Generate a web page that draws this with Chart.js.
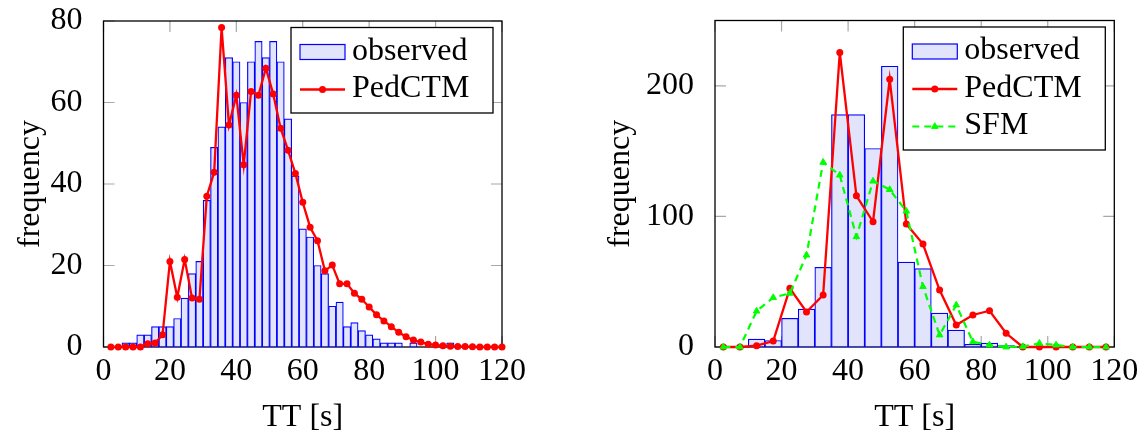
<!DOCTYPE html>
<html>
<head>
<meta charset="utf-8">
<script src="https://cdn.jsdelivr.net/npm/chart.js@4.4.1/dist/chart.umd.min.js"></script>
<style>
  html, body { margin: 0; padding: 0; background: #fff; }
  #wrap { position: relative; width: 1146px; height: 434px; }
  .panel { position: absolute; top: 0; width: 573px; height: 434px; }
</style>
</head>
<body>
<div id="wrap">
  <div class="panel" style="left:0"><canvas id="leftChart" width="573" height="434"></canvas></div>
  <div class="panel" style="left:573px"><canvas id="rightChart" width="573" height="434"></canvas></div>
</div>
<script>
// left panel: 54 bins over 0..120 s
const leftBins = [2.22, 4.44, 6.67, 8.89, 11.11, 13.33, 15.56, 17.78, 20, 22.22,
  24.44, 26.67, 28.89, 31.11, 33.33, 35.56, 37.78, 40, 42.22, 44.44,
  46.67, 48.89, 51.11, 53.33, 55.56, 57.78, 60, 62.22, 64.44, 66.67,
  68.89, 71.11, 73.33, 75.56, 77.78, 80, 82.22, 84.44, 86.67, 88.89,
  91.11, 93.33, 95.56, 97.78, 100, 102.22, 104.44, 106.67, 108.89, 111.11,
  113.33, 115.56, 117.78, 120];
const leftObserved = [0, 0, 1, 1, 3, 3, 5, 5, 5, 7,
  12, 18, 21, 36, 49, 54, 71, 70, 60, 70,
  75, 71, 75, 70, 56, 42, 29, 27, 20, 18,
  10, 11, 5, 6, 4, 3, 2, 1, 1, 1,
  0, 1, 0, 0, 0, 0, 1, 0, 0, 0,
  0, 0, 0, 0];
const leftPedCTM = [0, 0, 0, 0, 0, 0.8, 1, 3, 21, 12.2,
  21.5, 12, 11.7, 37, 42.9, 78.4, 54.5, 61.8, 44.7, 62.7,
  61.8, 68.4, 62.1, 53.7, 48.3, 42.6, 35.5, 29.4, 26.1, 18.7,
  20.1, 15.5, 15.5, 13.2, 11.7, 9.8, 7.9, 6.4, 5, 3.6,
  2.5, 1.7, 1.2, 0.7, 0.5, 0.3, 0.2, 0.15, 0.1, 0.05,
  0, 0, 0, 0];
const leftXTicks = [0, 20, 40, 60, 80, 100, 120];
const leftYTicks = [0, 20, 40, 60, 80];

// right panel: 5 s bins
const rightBins = [2.5, 7.5, 12.5, 17.5, 22.5, 27.5, 32.5, 37.5, 42.5, 47.5, 52.5, 57.5,
  62.5, 67.5, 72.5, 77.5, 82.5, 87.5, 92.5, 97.5, 102.5, 107.5, 112.5, 117.5];
const rightObserved = [0, 0, 6, 5, 22, 29, 61, 178, 178, 152, 215, 65,
  60, 26, 13, 2, 3, 1, 0, 0, 0, 0, 0, 0];
const rightPedCTM = [0, 0, 1, 4.6, 44.9, 26.8, 39.8, 225.5, 115.8, 95.9, 205, 94.1,
  78.8, 43.6, 16.8, 24.5, 27.8, 10.5, 0, 0, 0, 0, 0, 0];
const rightSFM = [0, 0, 27.5, 37.8, 41.1, 70.4, 141.4, 131.6, 84.4, 127, 120.5, 104,
  46.2, 9.2, 32.1, 4, 1.5, 0, 0.3, 2.8, 1.5, 0, 0, 0];
const rightXTicks = [0, 20, 40, 60, 80, 100, 120];
const rightYTicks = [0, 100, 200];

const FONT = 'Liberation Serif';
Chart.defaults.font.family = FONT;
Chart.defaults.font.size = 32;
Chart.defaults.color = '#000';

const BAR_FILL = 'rgb(226, 228, 252)';
const BAR_EDGE = '#0000ff';

function pairs(xs, ys) {
  return xs.map((x, i) => ({ x: x, y: ys[i] }));
}

// inward ticks on all four sides + black frame (pgfplots look)
const framePlugin = {
  id: 'frame',
  beforeDatasetsDraw(chart) {
    const { ctx, chartArea: a, scales } = chart;
    const len = 11;
    ctx.save();
    ctx.strokeStyle = '#a8a8a8';
    ctx.lineWidth = 1.2;
    ctx.beginPath();
    scales.x.ticks.forEach(t => {
      const px = scales.x.getPixelForValue(t.value);
      ctx.moveTo(px, a.bottom); ctx.lineTo(px, a.bottom - len);
      ctx.moveTo(px, a.top); ctx.lineTo(px, a.top + len);
    });
    scales.y.ticks.forEach(t => {
      const py = scales.y.getPixelForValue(t.value);
      ctx.moveTo(a.left, py); ctx.lineTo(a.left + len, py);
      ctx.moveTo(a.right, py); ctx.lineTo(a.right - len, py);
    });
    ctx.stroke();
    ctx.strokeStyle = '#000';
    ctx.lineWidth = 1.3;
    ctx.strokeRect(a.left, a.top, a.right - a.left, a.bottom - a.top);
    ctx.restore();
  }
};

// boxed legend in the upper right corner of the plot
const boxLegend = {
  id: 'boxLegend',
  afterDraw(chart) {
    const { ctx, chartArea: a } = chart;
    const sets = chart.data.datasets;
    const w = 202, rowH = 37.5;
    const h = 48 + rowH * (sets.length - 1);
    const left = a.right - 9 - w;
    const top = a.top + 6.5;
    ctx.save();
    ctx.fillStyle = '#fff';
    ctx.fillRect(left, top, w, h);
    ctx.strokeStyle = '#000';
    ctx.lineWidth = 1.3;
    ctx.strokeRect(left, top, w, h);

    sets.forEach((ds, i) => {
      const cy = top + 24.5 + i * rowH;
      const x0 = left + 9, x1 = left + 54;
      if (ds.type === 'bar') {
        ctx.fillStyle = ds.backgroundColor;
        ctx.fillRect(x0, cy - 7.5, x1 - x0, 15);
        ctx.strokeStyle = ds.borderColor;
        ctx.lineWidth = 1.2;
        ctx.strokeRect(x0, cy - 7.5, x1 - x0, 15);
      } else {
        ctx.strokeStyle = ds.borderColor;
        ctx.lineWidth = ds.borderWidth;
        ctx.setLineDash(ds.borderDash || []);
        ctx.beginPath();
        ctx.moveTo(x0, cy);
        ctx.lineTo(x1, cy);
        ctx.stroke();
        ctx.setLineDash([]);
        ctx.fillStyle = ds.backgroundColor;
        ctx.lineWidth = ds.pointBorderWidth;
        Chart.helpers.drawPoint(ctx, {
          pointStyle: ds.pointStyle, radius: ds.pointRadius, rotation: 0,
          borderWidth: ds.pointBorderWidth
        }, (x0 + x1) / 2, cy);
      }
      ctx.fillStyle = '#000';
      ctx.font = '32px "' + FONT + '"';
      ctx.textAlign = 'left';
      ctx.textBaseline = 'alphabetic';
      ctx.fillText(ds.label, left + 61, cy + 7.5);
    });
    ctx.restore();
  }
};

function makeChart(id, cfg) {
  const datasets = [
    {
      type: 'bar', label: 'observed',
      data: pairs(cfg.bins, cfg.observed),
      backgroundColor: BAR_FILL, borderColor: BAR_EDGE, borderWidth: 1.2,
      borderSkipped: false, barPercentage: 1, categoryPercentage: 1, order: 3
    },
    {
      type: 'line', label: 'PedCTM',
      data: pairs(cfg.bins, cfg.pedctm),
      borderColor: '#ff0000', backgroundColor: '#ff0000', borderWidth: 2.3,
      pointStyle: 'circle', pointRadius: 3.5, pointBorderWidth: 0,
      tension: 0, clip: false, order: 2
    }
  ];
  if (cfg.sfm) {
    datasets.push({
      type: 'line', label: 'SFM',
      data: pairs(cfg.bins, cfg.sfm),
      borderColor: '#00ff00', backgroundColor: '#00ff00', borderWidth: 2.2,
      borderDash: [7, 5],
      pointStyle: 'triangle', pointRadius: 3.8, pointBorderWidth: 1,
      tension: 0, clip: false, order: 1
    });
  }

  return new Chart(document.getElementById(id), {
    type: 'bar',
    data: { datasets: datasets },
    options: {
      responsive: false,
      animation: false,
      devicePixelRatio: 1,
      layout: { padding: { left: 0, right: cfg.padRight, top: cfg.padTop, bottom: 0 } },
      plugins: { legend: { display: false }, tooltip: { enabled: false } },
      scales: {
        x: {
          type: 'linear', min: 0, max: 120, offset: false,
          grid: { display: false }, border: { display: false },
          ticks: { padding: -3, maxRotation: 0, autoSkip: false },
          afterBuildTicks: s => { s.ticks = cfg.xTicks.map(v => ({ value: v })); },
          afterFit: s => { s.height = 87; s.paddingLeft = 0; s.paddingRight = 0; },
          title: { display: true, text: 'TT [s]', padding: { top: 0, bottom: -3 } }
        },
        y: {
          min: 0, max: cfg.yMax,
          grid: { display: false }, border: { display: false },
          ticks: { padding: 13 },
          afterBuildTicks: s => { s.ticks = cfg.yTicks.map(v => ({ value: v })); },
          afterFit: s => { s.width = cfg.yWidth; s.paddingTop = 0; s.paddingBottom = 0; },
          title: { display: true, text: 'frequency', padding: { top: cfg.titlePad, bottom: 0 } }
        }
      }
    },
    plugins: [framePlugin, boxLegend]
  });
}

makeChart('leftChart', {
  bins: leftBins, observed: leftObserved, pedctm: leftPedCTM,
  xTicks: leftXTicks, yTicks: leftYTicks, yMax: 80,
  yWidth: 103.5, padRight: 71, padTop: 21, titlePad: 11
});

makeChart('rightChart', {
  bins: rightBins, observed: rightObserved, pedctm: rightPedCTM, sfm: rightSFM,
  xTicks: rightXTicks, yTicks: rightYTicks, yMax: 250,
  yWidth: 142, padRight: 31.7, padTop: 20.5, titlePad: 28
});
</script>
</body>
</html>
